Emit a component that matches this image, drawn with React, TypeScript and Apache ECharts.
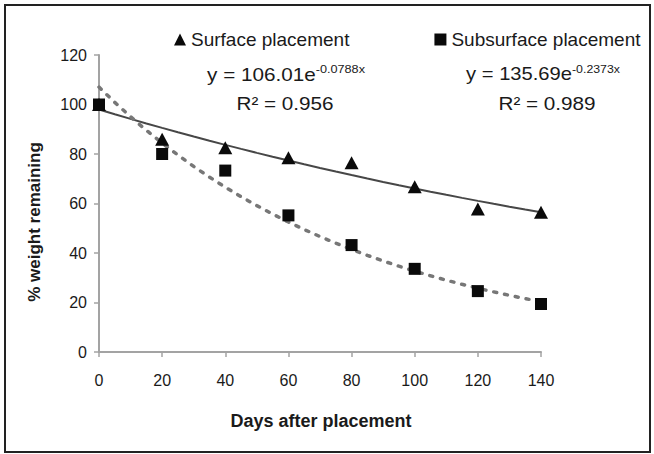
import React, { useEffect, useRef } from "react";
import * as echarts from "echarts";

const days = [0, 20, 40, 60, 80, 100, 120, 140];
const surfaceValues = [100, 86, 82.5, 78.5, 76.5, 66.8, 57.8, 56.5];
const subsurfaceValues = [100, 80, 73.3, 55.2, 43.2, 33.6, 24.6, 19.4];
const yTicks = [0, 20, 40, 60, 80, 100, 120];
const xTicks = [0, 20, 40, 60, 80, 100, 120, 140];

// Exponential trendlines as printed on the chart (x = point index 1..8)
const surfaceFit = { a: 106.01, b: -0.0788 };
const subsurfaceFit = { a: 135.69, b: -0.2373 };
const fitDays = [0, 5, 10, 15, 20, 25, 30, 35, 40, 45, 50, 55, 60, 65, 70, 75, 80, 85, 90, 95, 100, 105, 110, 115, 120, 125, 130, 135, 140];

const FONT = "'Liberation Sans', Arial, sans-serif";
const TEXT = "#1a1a1a";

function fitLine(fit: { a: number; b: number }) {
  return fitDays.map((d) => [d, fit.a * Math.exp(fit.b * (d / 20 + 1))]);
}

export default function App() {
  const ref = useRef<HTMLDivElement>(null);
  useEffect(() => {
    if (!ref.current) return;
    const chart = echarts.init(ref.current, undefined, { renderer: "svg" });
    const axisColor = "#a3a3a3";
    chart.setOption({
      animation: false,
      backgroundColor: "#ffffff",
      grid: { left: 99, right: 113, top: 55, bottom: 102 },
      legend: {
        left: 169,
        top: 25,
        itemWidth: 12,
        itemHeight: 12,
        itemGap: 85,
        textStyle: { fontSize: 19, fontFamily: FONT, color: TEXT, padding: [0, 0, 0, 0] },
        data: [
          { name: "Surface placement", icon: "triangle" },
          { name: "Subsurface placement", icon: "rect" },
        ],
      },
      xAxis: {
        type: "value",
        min: 0,
        max: 140,
        interval: 20,
        splitLine: { show: false },
        axisLine: { show: true, lineStyle: { color: axisColor, width: 2 } },
        axisTick: { show: true, length: 5, lineStyle: { color: axisColor, width: 1.5 } },
        axisLabel: {
          fontSize: 16,
          fontFamily: FONT,
          color: TEXT,
          margin: 20,
          formatter: (v: number) => (xTicks.includes(v) ? String(v) : ""),
        },
      },
      yAxis: {
        type: "value",
        min: 0,
        max: 120,
        interval: 20,
        splitLine: { show: false },
        axisLine: { show: true, lineStyle: { color: axisColor, width: 2 } },
        axisTick: { show: true, length: 5, lineStyle: { color: axisColor, width: 1.5 } },
        axisLabel: {
          fontSize: 16,
          fontFamily: FONT,
          color: TEXT,
          margin: 12,
          formatter: (v: number) => (yTicks.includes(v) ? String(v) : ""),
        },
      },
      series: [
        {
          name: "Surface trend",
          type: "line",
          data: fitLine(surfaceFit),
          showSymbol: false,
          silent: true,
          lineStyle: { color: "#474747", width: 2 },
          z: 2,
        },
        {
          name: "Subsurface trend",
          type: "line",
          data: fitLine(subsurfaceFit),
          showSymbol: false,
          silent: true,
          lineStyle: { color: "#777777", width: 3.5, type: [3, 8], cap: "round" },
          z: 2,
        },
        {
          name: "Surface placement",
          type: "scatter",
          symbol: "triangle",
          symbolSize: [14, 13],
          data: days.map((d, i) => [d, surfaceValues[i]]),
          itemStyle: { color: "#0a0a0a", opacity: 1 },
          z: 3,
        },
        {
          name: "Subsurface placement",
          type: "scatter",
          symbol: "rect",
          symbolSize: 12,
          data: days.map((d, i) => [d, subsurfaceValues[i]]),
          itemStyle: { color: "#0a0a0a", opacity: 1 },
          z: 4,
        },
      ],
      graphic: [
        {
          type: "rect",
          shape: { x: 5, y: 5, width: 645, height: 447 },
          style: { fill: "none", stroke: "#222222", lineWidth: 2 },
          silent: true,
        },
        {
          type: "text",
          x: 286,
          y: 75,
          scaleX: 1.15,
          style: {
            text: "{m|y = 106.01e}{s|-0.0788x}",
            align: "center",
            verticalAlign: "middle",
            rich: {
              m: { fontSize: 18, fontFamily: FONT, fill: TEXT, lineHeight: 22 },
              s: { fontSize: 11, fontFamily: FONT, fill: TEXT, verticalAlign: "top", lineHeight: 12 },
            },
          },
        },
        {
          type: "text",
          x: 285,
          y: 104,
          scaleX: 1.15,
          style: { text: "R² = 0.956", align: "center", verticalAlign: "middle", fontSize: 18, fontFamily: FONT, fill: TEXT },
        },
        {
          type: "text",
          x: 543,
          y: 74,
          scaleX: 1.12,
          style: {
            text: "{m|y = 135.69e}{s|-0.2373x}",
            align: "center",
            verticalAlign: "middle",
            rich: {
              m: { fontSize: 18, fontFamily: FONT, fill: TEXT, lineHeight: 22 },
              s: { fontSize: 11, fontFamily: FONT, fill: TEXT, verticalAlign: "top", lineHeight: 12 },
            },
          },
        },
        {
          type: "text",
          x: 547,
          y: 104,
          scaleX: 1.15,
          style: { text: "R² = 0.989", align: "center", verticalAlign: "middle", fontSize: 18, fontFamily: FONT, fill: TEXT },
        },
        {
          type: "text",
          x: 321,
          y: 421,
          style: { text: "Days after placement", align: "center", verticalAlign: "middle", fontSize: 18, fontWeight: "bold", fontFamily: FONT, fill: TEXT },
        },
        {
          type: "text",
          x: 34,
          y: 222,
          rotation: Math.PI / 2,
          style: { text: "% weight remaining", align: "center", verticalAlign: "middle", fontSize: 17, fontWeight: "bold", fontFamily: FONT, fill: TEXT },
        },
      ],
    });
    return () => chart.dispose();
  }, []);
  return <div ref={ref} style={{ position: "fixed", left: 0, top: 0, width: 654, height: 454, background: "#fff" }} />;
}
